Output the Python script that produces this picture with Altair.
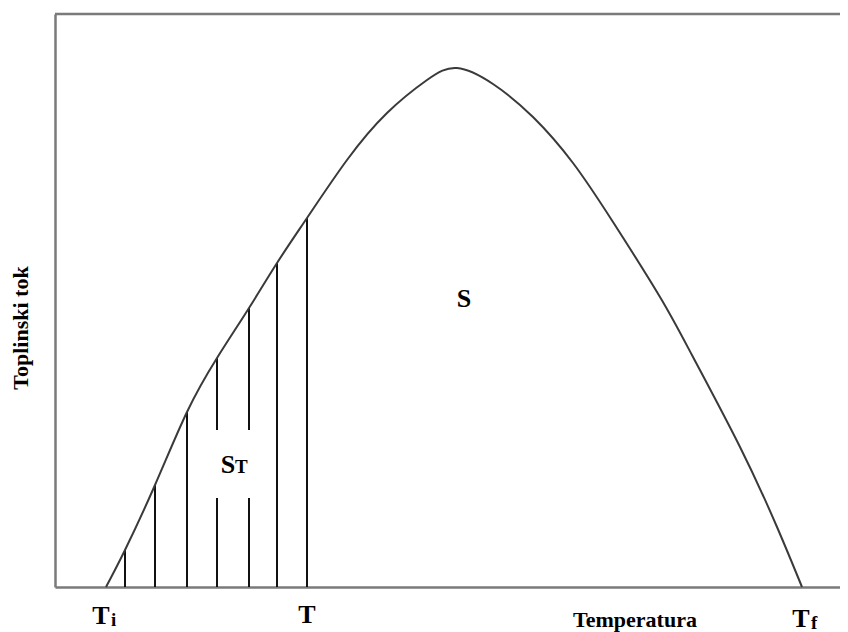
import altair as alt
import pandas as pd

# Curve (heat flow vs temperature), arbitrary units
curve_t = [51, 70, 100, 132, 162, 194, 222, 252, 292, 332, 372, 402, 438, 478, 518, 558, 605, 638, 685, 722, 747]
curve_q = [0, 37, 102, 175, 229, 279, 324, 369, 427, 474, 507, 519, 503, 470, 424, 365, 290, 230, 140, 60, 0]

# Hatching lines under the curve between Ti and T (segments, gap around S_T label)
hatch_t = [70, 100, 132, 162, 162, 194, 194, 222, 252]
hatch_lo = [0, 0, 0, 0, 157, 0, 157, 0, 0]
hatch_hi = [37, 102, 175, 89, 229, 89, 279, 324, 369]

# Frame
frame_t = [0, 785]
frame_q = [573, 573]
T_MAX = 785
Q_MAX = 573

# Labels
lab_text = ["S", "S", "T", "T", "T"]
lab_t = [409, 173, 46, 252, 746]
lab_q = [280, 114, -37, -36, -40]
sub_text = ["T", "i", "f"]
sub_t = [180, 56, 756]
sub_q = [114, -39, -42]
xtitle = "Temperatura"
xtitle_t = 580
xtitle_q = -40
ytitle = "Toplinski tok"
ytitle_t = -27
ytitle_q = 259

FONT = "Liberation Serif"

xs = alt.Scale(domain=[0, T_MAX], nice=False, zero=False)
ys = alt.Scale(domain=[0, Q_MAX], nice=False, zero=False)

curve_df = pd.DataFrame({"t": curve_t, "q": curve_q})
hatch_df = pd.DataFrame({"t": hatch_t, "lo": hatch_lo, "hi": hatch_hi})
frame_df = pd.DataFrame({"t": [frame_t[0]], "t2": [frame_t[1]], "q": [frame_q[0]]})
lab_df = pd.DataFrame({"txt": lab_text, "t": lab_t, "q": lab_q})
sub_df = pd.DataFrame({"txt": sub_text, "t": sub_t, "q": sub_q})
xt_df = pd.DataFrame({"txt": [xtitle], "t": [xtitle_t], "q": [xtitle_q]})
yt_df = pd.DataFrame({"txt": [ytitle], "t": [ytitle_t], "q": [ytitle_q]})

axis_x = alt.Axis(title=None, labels=False, ticks=False, grid=False,
                  domainColor="#7a7a7a", domainWidth=2.5)
axis_y = alt.Axis(title=None, labels=False, ticks=False, grid=False,
                  domainColor="#7a7a7a", domainWidth=2.5)

base_axes = alt.Chart(curve_df).mark_line(
    color="#3a3a3a", strokeWidth=2, interpolate="natural"
).encode(
    x=alt.X("t:Q", scale=xs, axis=axis_x),
    y=alt.Y("q:Q", scale=ys, axis=axis_y),
)

top = alt.Chart(frame_df).mark_rule(color="#7a7a7a", strokeWidth=2.5).encode(
    x=alt.X("t:Q", scale=xs), x2="t2:Q", y=alt.Y("q:Q", scale=ys)
)

hatch = alt.Chart(hatch_df).mark_rule(color="#111111", strokeWidth=2).encode(
    x=alt.X("t:Q", scale=xs), y=alt.Y("lo:Q", scale=ys), y2="hi:Q"
)

labels = alt.Chart(lab_df).mark_text(
    font=FONT, fontWeight="bold", fontSize=26, align="center", baseline="alphabetic", color="#000000"
).encode(x=alt.X("t:Q", scale=xs), y=alt.Y("q:Q", scale=ys), text="txt:N")

subs = alt.Chart(sub_df).mark_text(
    font=FONT, fontWeight="bold", fontSize=19, align="left", baseline="alphabetic", color="#000000"
).encode(x=alt.X("t:Q", scale=xs), y=alt.Y("q:Q", scale=ys), text="txt:N")

xt = alt.Chart(xt_df).mark_text(
    font=FONT, fontWeight="bold", fontSize=22, align="center", baseline="alphabetic", color="#000000"
).encode(x=alt.X("t:Q", scale=xs), y=alt.Y("q:Q", scale=ys), text="txt:N")

yt = alt.Chart(yt_df).mark_text(
    font=FONT, fontWeight="bold", fontSize=22, align="center", baseline="alphabetic",
    angle=270, color="#000000"
).encode(x=alt.X("t:Q", scale=xs), y=alt.Y("q:Q", scale=ys), text="txt:N")

chart = alt.layer(top, hatch, base_axes, labels, subs, xt, yt).properties(
    width=785, height=573,
    autosize=alt.AutoSizeParams(type="none"),
    padding={"left": 47, "top": 6, "right": 0, "bottom": 45},
    background="white",
).configure_view(stroke=None)

chart.save("out.html", embed_options={"renderer": "svg", "actions": False})
